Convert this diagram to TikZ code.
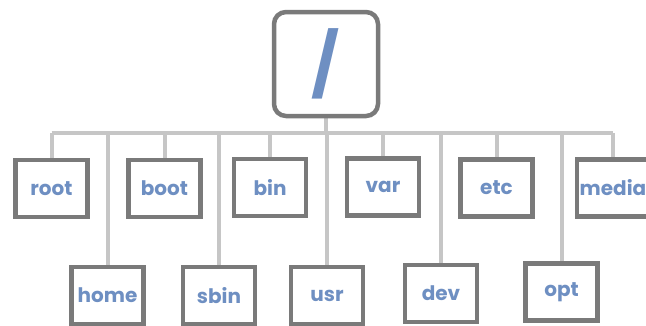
\documentclass[tikz,border=0pt]{standalone}
\usepackage{fontspec}
\setmainfont{Poppins}
\definecolor{boxgray}{HTML}{7A7A7A}
\definecolor{linkgray}{HTML}{C6C6C6}
\definecolor{dirblue}{HTML}{6E8FC2}
\pgfdeclarelayer{links}
\pgfsetlayers{links,main}
\tikzset{
  dirbox/.style={draw=boxgray, line width=4.5pt, fill=white,
    minimum width=72pt, minimum height=57pt, inner sep=0pt,
    text=dirblue, font=\fontsize{20}{20}\selectfont\bfseries},
  rootbox/.style={draw=boxgray, line width=4.5pt, fill=white, rounded corners=12pt,
    minimum width=104pt, minimum height=104pt, inner sep=0pt,
    text=dirblue, font=\fontsize{62}{62}\selectfont\bfseries},
  link/.style={draw=linkgray, line width=4pt},
}
\begin{document}
\begin{tikzpicture}[x=1pt,y=-1pt]
  \useasboundingbox (0,0) rectangle (646,325);
  \clip (0,0) rectangle (646,325);

  % directory tree: root and its children
  \node[rootbox] (top) at (326,64) {\raisebox{-4pt}{/}};

  \node[dirbox] (root)  at (51.5,188.5) {root};
  \node[dirbox] (boot)  at (164.5,188.5) {boot};
  \node[dirbox] (bin)   at (270,187.5) {bin};
  \node[dirbox] (var)   at (383,187) {var};
  \node[dirbox] (etc)   at (496.5,188) {etc};
  \node[dirbox] (media) at (613,188) {media};

  \node[dirbox] (home)  at (107.5,295.5) {home};
  \node[dirbox] (sbin)  at (219,295.5) {sbin};
  \node[dirbox] (usr)   at (327,295.5) {usr};
  \node[dirbox] (dev)   at (441,293.5) {dev};
  \node[dirbox] (opt)   at (561.5,292) {opt};

  % white page, bus line and drops, all kept behind the boxes
  \coordinate (bus) at (0,133);
  \begin{pgfonlayer}{links}
    \fill[white] (0,0) rectangle (646,325);
    \path[link] (top.south) -- (top.south |- bus);
    \path[link] (root.north |- bus) -- (media.north |- bus);
    \foreach \n in {root,boot,bin,var,etc,media,home,sbin,usr,dev,opt}
      \path[link] (\n.north |- bus) -- (\n.north);
  \end{pgfonlayer}
\end{tikzpicture}
\end{document}
